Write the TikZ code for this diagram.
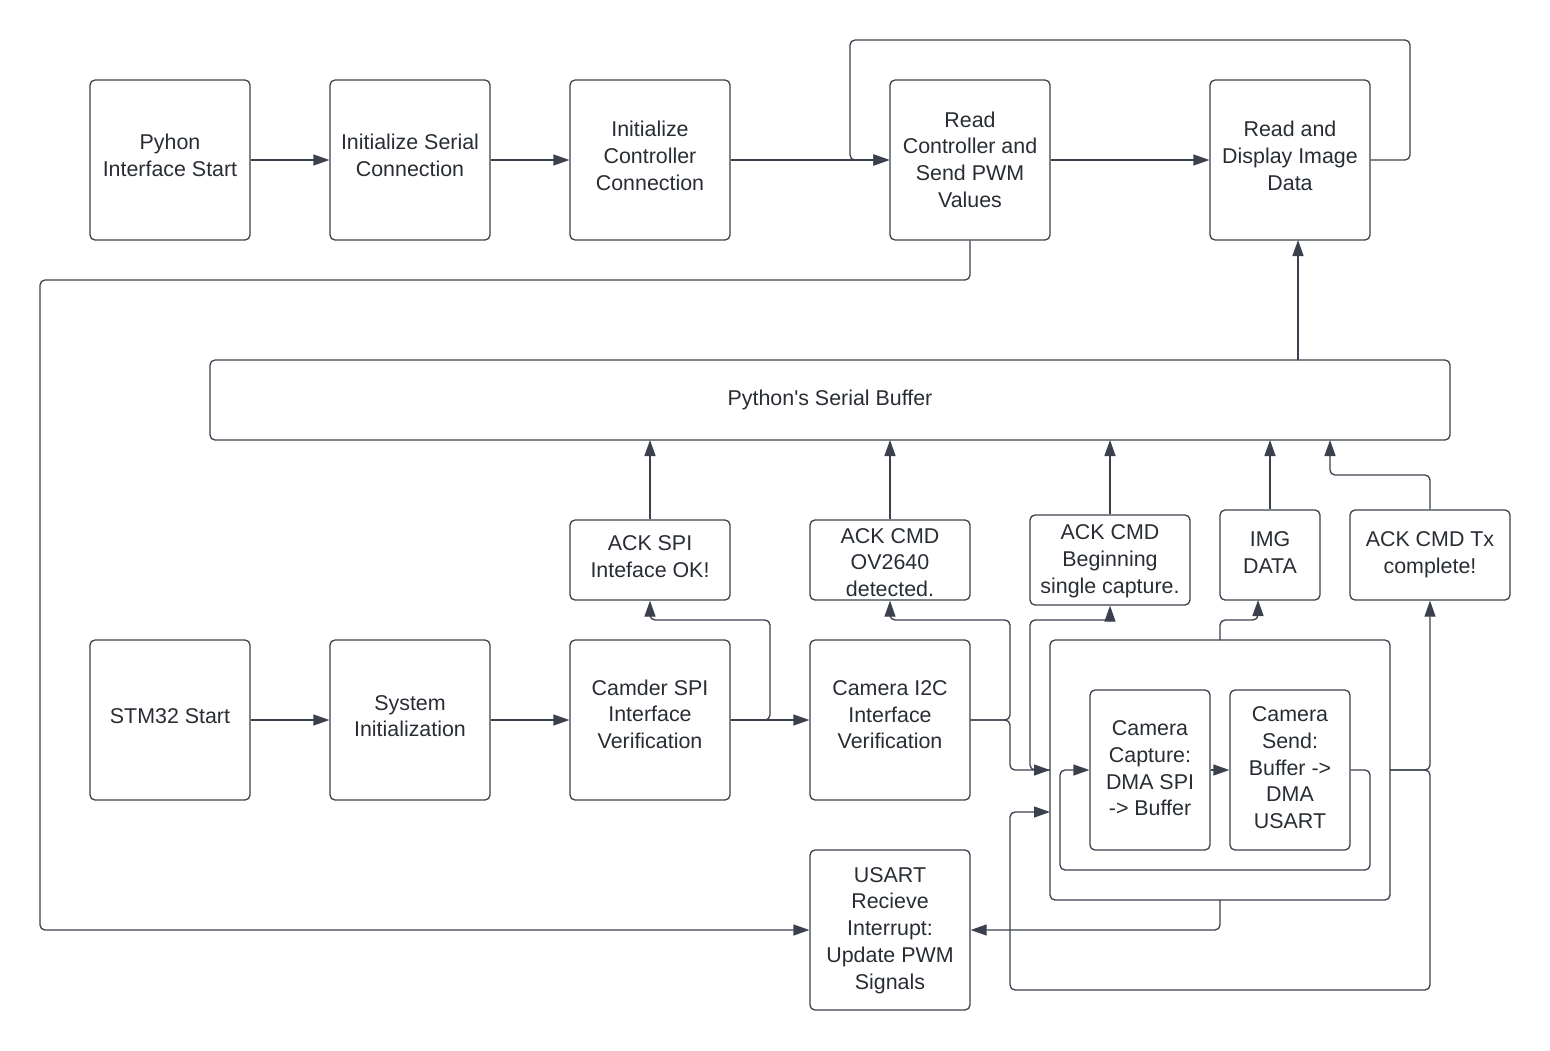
\documentclass[tikz,border=0pt]{standalone}
\usepackage{fontspec}
\newfontfamily\dfam{Liberation Sans}
\usetikzlibrary{arrows.meta}
\definecolor{lc}{RGB}{58,65,76}
\definecolor{tc}{RGB}{40,45,52}
\newcommand{\dfont}{\dfam\fontsize{21.4}{26.7}\selectfont}
% centred text block; optional argument moves it down
\newcommand{\tx}[2][0pt]{\raisebox{0pt}[\dimexpr\height+#1-2pt\relax][\dimexpr\depth-#1+2pt\relax]{\begin{tabular}{@{}c@{}}#2\end{tabular}}}
\tikzset{
  box/.style={draw=lc, rounded corners=5pt, line width=1.3pt, text=tc, font=\dfont, inner sep=0pt},
  bigbox/.style={box, minimum width=160pt, minimum height=160pt},
  conn/.style={draw=lc, line width=1.3pt, rounded corners=5pt},
  arr/.style={conn, -{Triangle[length=16pt,width=11pt]}},
}
\begin{document}
\begin{tikzpicture}[x=1pt,y=-1pt]
\useasboundingbox (0,0) rectangle (1550,1050);
% top row
\node[bigbox] (p1) at (170,160) {\tx{Pyhon\\Interface Start}};
\node[bigbox] (p2) at (410,160) {\tx{Initialize Serial\\Connection}};
\node[bigbox] (p3) at (650,160) {\tx{Initialize\\Controller\\Connection}};
\node[bigbox] (p4) at (970,160) {\tx[4pt]{Read\\Controller and\\Send PWM\\Values}};
\node[bigbox] (p5) at (1290,160) {\tx{Read and\\Display Image\\Data}};
% buffer
\node[box, minimum width=1240pt, minimum height=80pt] (buf) at (830,400) {\tx[1.7pt]{Python's Serial Buffer}};
% ack boxes
\node[box, minimum width=160pt, minimum height=80pt] (a1) at (650,560) {\tx[1pt]{ACK SPI\\Inteface OK!}};
\node[box, minimum width=160pt, minimum height=80pt] (a2) at (890,560) {\tx[6.6pt]{ACK CMD\\OV2640\\detected.}};
\node[box, minimum width=160pt, minimum height=90pt] (a3) at (1110,560) {\tx[3.3pt]{ACK CMD\\Beginning\\single capture.}};
\node[box, minimum width=100pt, minimum height=90pt] (a4) at (1270,555) {\tx[1.7pt]{IMG\\DATA}};
\node[box, minimum width=160pt, minimum height=90pt] (a5) at (1430,555) {\tx[1.7pt]{ACK CMD Tx\\complete!}};
% bottom row
\node[bigbox] (s1) at (170,720) {\tx{STM32 Start}};
\node[bigbox] (s2) at (410,720) {\tx{System\\Initialization}};
\node[bigbox] (s3) at (650,720) {\tx[-1.5pt]{Camder SPI\\Interface\\Verification}};
\node[bigbox] (s4) at (890,720) {\tx[-1.2pt]{Camera I2C\\Interface\\Verification}};
\node[box, minimum width=340pt, minimum height=260pt] (outer) at (1220,770) {};
\node[box, minimum width=120pt, minimum height=160pt] (cap) at (1150,770) {\tx[2.4pt]{Camera\\Capture:\\DMA SPI\\-> Buffer}};
\node[box, minimum width=120pt, minimum height=160pt] (snd) at (1290,770) {\tx[1.7pt]{Camera\\Send:\\Buffer ->\\DMA\\USART}};
\node[bigbox] (us) at (890,930) {\tx[2.3pt]{USART\\Recieve\\Interrupt:\\Update PWM\\Signals}};
% helper coordinates
\coordinate (oin) at (1050,770);
\coordinate (oin2) at (1050,812);
\coordinate (oout) at (1390,770);
\coordinate (otop) at (1220,640);
\coordinate (obot) at (1220,900);
% top connectors
\draw[arr] (p1.east) -- (p2.west);
\draw[arr] (p2.east) -- (p3.west);
\draw[arr] (p3.east) -- (p4.west);
\draw[arr] (p4.east) -- (p5.west);
\draw[arr] (p5.east) -- (1410,160) -- (1410,40) -- (850,40) -- (850,160) -- (p4.west);
\draw[arr] (p4.south) -- (970,280) -- (40,280) -- (40,930) -- (us.west);
\draw[arr] (1298,360) -- (1298,240);
% to buffer
\draw[arr] (a1.north) -- (650,440);
\draw[arr] (a2.north) -- (890,440);
\draw[arr] (a3.north) -- (1110,440);
\draw[arr] (a4.north) -- (1270,440);
\draw[arr] (a5.north) -- (1430,475) -- (1330,475) -- (1330,440);
% bottom row
\draw[arr] (s1.east) -- (s2.west);
\draw[arr] (s2.east) -- (s3.west);
\draw[arr] (s3.east) -- (s4.west);
\draw[arr] (s3.east) -- (770,720) -- (770,620) -- (650,620) -- (a1.south);
\draw[arr] (s4.east) -- (1010,720) -- (1010,620) -- (890,620) -- (a2.south);
\draw[arr] (s4.east) -- (1010,720) -- (1010,770) -- (oin);
\draw[arr] (oin) -- (1030,770) -- (1030,620) -- (1110,620) -- (a3.south);
\draw[arr] (otop) -- (1220,620) -- (1258,620) -- (1258,600);
\draw[arr] (oout) -- (1430,770) -- (a5.south);
\draw[arr] (oout) -- (1430,770) -- (1430,990) -- (1010,990) -- (1010,812) -- (oin2);
\draw[arr] (obot) -- (1220,930) -- (us.east);
% inner loop
\draw[arr] (cap.east) -- (snd.west);
\draw[arr] (snd.east) -- (1370,770) -- (1370,870) -- (1060,870) -- (1060,770) -- (cap.west);
\end{tikzpicture}
\end{document}
